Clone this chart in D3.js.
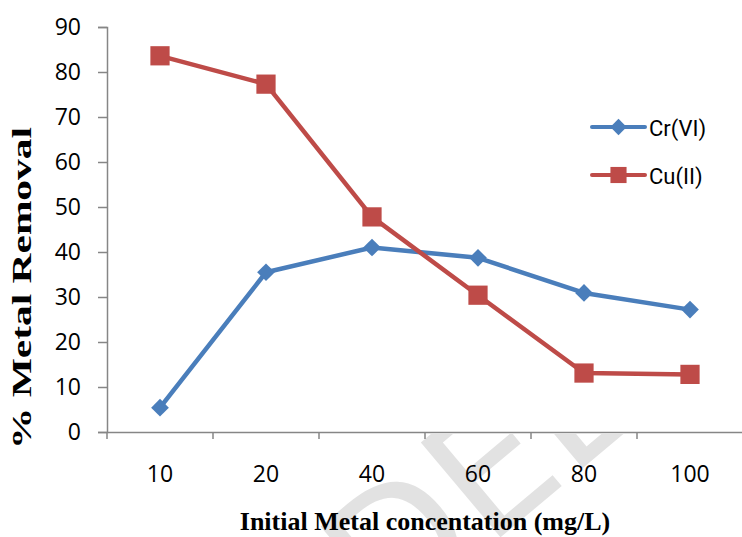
<!DOCTYPE html>
<html>
<head>
<meta charset="utf-8">
<script src="https://cdn.jsdelivr.net/npm/d3@7"></script>
<style>
  body { margin: 0; background: #fff; }
  svg { display: block; }
</style>
</head>
<body>
<div id="chart"></div>
<script>
// Datos
var categories = ["10", "20", "40", "60", "80", "100"];
var crValues = [5.4, 35.5, 41.0, 38.7, 30.9, 27.2];
var cuValues = [83.6, 77.3, 47.8, 30.4, 13.1, 12.8];
var yTicks = [0, 10, 20, 30, 40, 50, 60, 70, 80, 90];
var seriesNames = ["Cr(VI)", "Cu(II)"];

var width = 742;
var height = 537;

var svg = d3.select("#chart")
    .append("svg")
    .attr("width", width)
    .attr("height", height);

// Marca de agua (solo visible debajo del eje X)
svg.append("clipPath")
    .attr("id", "wm-clip")
    .append("rect")
    .attr("x", 0).attr("y", 434)
    .attr("width", width).attr("height", height - 434);

svg.append("g")
    .attr("clip-path", "url(#wm-clip)")
    .append("text")
    .attr("transform", "translate(515,525) rotate(-40)")
    .attr("text-anchor", "middle")
    .style("font-family", "DejaVu Sans, sans-serif")
    .style("font-size", "170px")
    .style("fill", "#e2e2e2")
    .text("DEL");

var xScale = d3.scaleBand()
    .domain(categories)
    .range([107, 743]);

var yScale = d3.scaleLinear()
    .domain([0, 90])
    .range([432, 27]);

var axisColor = "#868686";
var tickFont = "Open Sans, sans-serif";

// Eje Y
var yAxis = svg.append("g")
    .attr("transform", "translate(107,0)")
    .call(d3.axisLeft(yScale).tickValues(yTicks).tickSize(9).tickPadding(17));
yAxis.select(".domain").attr("stroke", axisColor).attr("stroke-width", 1.5);
yAxis.selectAll(".tick line").attr("stroke", axisColor).attr("stroke-width", 1.5);
yAxis.selectAll(".tick text")
    .style("font-family", tickFont)
    .style("font-size", "23px")
    .attr("fill", "#000");

// Eje X
var xAxis = svg.append("g")
    .attr("transform", "translate(0,432)")
    .call(d3.axisBottom(xScale).tickSize(0));
xAxis.select(".domain").attr("stroke", axisColor).attr("stroke-width", 1.5);
xAxis.selectAll(".tick text")
    .attr("dy", null)
    .attr("y", 50)
    .style("font-family", tickFont)
    .style("font-size", "23px")
    .attr("fill", "#000");

// Marcas entre categorias
var bounds = categories.map(function (d) { return xScale(d); });
svg.selectAll(".xbound")
    .data(bounds)
    .enter()
    .append("line")
    .attr("x1", function (d) { return d; })
    .attr("x2", function (d) { return d; })
    .attr("y1", 432)
    .attr("y2", 439)
    .attr("stroke", axisColor)
    .attr("stroke-width", 1.5);

var cx = function (d, i) { return xScale(categories[i]) + xScale.bandwidth() / 2; };

var line = d3.line()
    .x(function (d, i) { return cx(d, i); })
    .y(function (d) { return yScale(d); });

var blue = "#4a7ebb";
var red = "#be4b48";

// Linea Cr(VI)
svg.append("path")
    .datum(crValues)
    .attr("d", line)
    .attr("fill", "none")
    .attr("stroke", blue)
    .attr("stroke-width", 4.5)
    .attr("stroke-linejoin", "round");

// Linea Cu(II)
svg.append("path")
    .datum(cuValues)
    .attr("d", line)
    .attr("fill", "none")
    .attr("stroke", red)
    .attr("stroke-width", 4.5)
    .attr("stroke-linejoin", "round");

var diamond = d3.symbol().type(d3.symbolDiamond2).size(200);
var square = d3.symbol().type(d3.symbolSquare).size(370);

svg.selectAll(".cr")
    .data(crValues)
    .enter()
    .append("path")
    .attr("d", diamond)
    .attr("transform", function (d, i) { return "translate(" + cx(d, i) + "," + yScale(d) + ")"; })
    .attr("fill", blue);

svg.selectAll(".cu")
    .data(cuValues)
    .enter()
    .append("path")
    .attr("d", square)
    .attr("transform", function (d, i) { return "translate(" + cx(d, i) + "," + yScale(d) + ")"; })
    .attr("fill", red);

// Leyenda
var legend = svg.append("g").attr("transform", "translate(592,127)");
var legendItems = [
    { name: seriesNames[0], color: blue, sym: d3.symbol().type(d3.symbolDiamond2).size(170) },
    { name: seriesNames[1], color: red, sym: d3.symbol().type(d3.symbolSquare).size(260) }
];
legendItems.forEach(function (item, i) {
    var g = legend.append("g").attr("transform", "translate(0," + (i * 48) + ")");
    g.append("line")
        .attr("x1", 0).attr("x2", 53)
        .attr("stroke", item.color)
        .attr("stroke-width", 4)
        .attr("stroke-linecap", "round");
    g.append("path")
        .attr("d", item.sym)
        .attr("transform", "translate(26.5,0)")
        .attr("fill", item.color);
    g.append("text")
        .attr("x", 57)
        .attr("y", 9)
        .style("font-family", "Roboto, sans-serif")
        .style("font-size", "22px")
        .text(item.name);
});

// Etiquetas de los ejes
svg.append("text")
    .attr("transform", "rotate(-90)")
    .attr("x", -288)
    .attr("y", 31)
    .attr("textLength", 322)
    .attr("lengthAdjust", "spacingAndGlyphs")
    .style("text-anchor", "middle")
    .style("font-family", "Liberation Serif, serif")
    .style("font-weight", "bold")
    .style("font-size", "27px")
    .text("% Metal Removal");

svg.append("text")
    .attr("x", 425)
    .attr("y", 530)
    .style("text-anchor", "middle")
    .style("font-family", "Liberation Serif, serif")
    .style("font-weight", "bold")
    .style("font-size", "26px")
    .text("Initial Metal concentation (mg/L)");
</script>
</body>
</html>
